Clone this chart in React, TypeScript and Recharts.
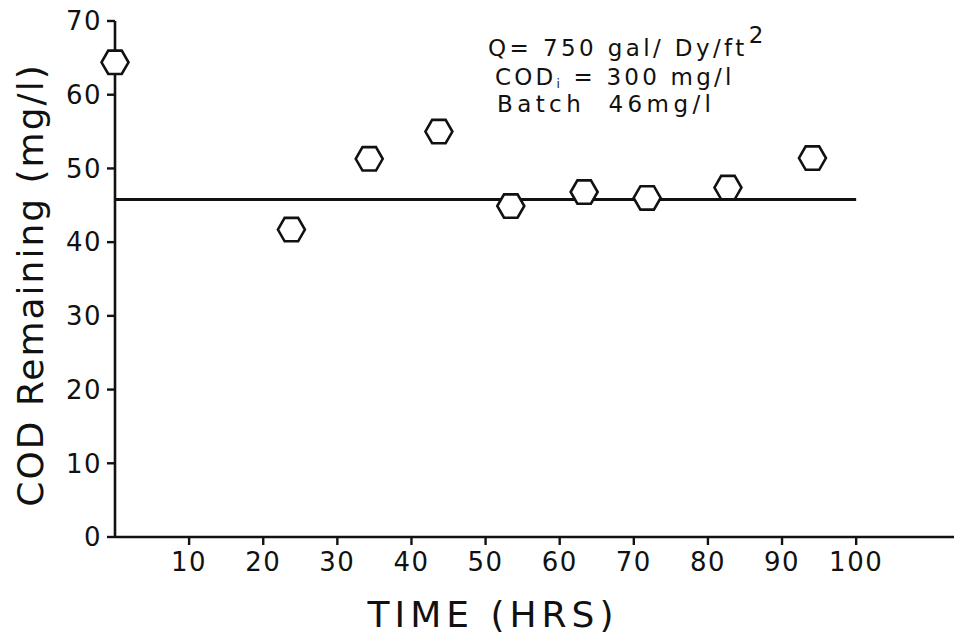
import React from 'react'
import {
  ReferenceLine,
  Scatter,
  ScatterChart,
  XAxis,
  YAxis,
} from 'recharts'

// COD remaining vs. time, hand-read from the plotted hexagons
const timeHrs = [0, 23.8, 34.3, 43.7, 53.4, 63.3, 71.8, 82.7, 94.1]
const codRemaining = [64.4, 41.7, 51.3, 55.0, 44.9, 46.8, 46.0, 47.4, 51.4]

// batch reference level drawn as a flat line
const batchSpan = [0, 100]
const batchCod = 45.8

const xTicks = [10, 20, 30, 40, 50, 60, 70, 80, 90, 100]
const yTicks = [0, 10, 20, 30, 40, 50, 60, 70]

const CHART_WIDTH = 954
const CHART_HEIGHT = 636
const FONT = '"DejaVu Sans", Verdana, sans-serif'
const INK = '#111'

const points = timeHrs.map((t, i) => ({ t, cod: codRemaining[i] }))

function Hexagon(props: any): JSX.Element | null {
  const { cx, cy } = props
  if (cx == null || cy == null) return null
  const r = 13.5
  const h = (r * Math.sqrt(3)) / 2
  const pts = [
    [cx - r, cy],
    [cx - r / 2, cy - h],
    [cx + r / 2, cy - h],
    [cx + r, cy],
    [cx + r / 2, cy + h],
    [cx - r / 2, cy + h],
  ]
    .map((p) => p.join(','))
    .join(' ')
  return <polygon points={pts} fill="#fff" stroke={INK} strokeWidth={2.6} />
}

function YTitle({ viewBox }: any): JSX.Element {
  const cy = viewBox.y + viewBox.height / 2 + 6
  return (
    <text
      x={30}
      y={cy}
      transform={`rotate(-90, 30, ${cy})`}
      textAnchor="middle"
      dominantBaseline="central"
      fontFamily={FONT}
      fontSize={36}
      letterSpacing={2}
      fill={INK}
    >
      COD Remaining (mg/l)
    </text>
  )
}

function XTitle({ viewBox }: any): JSX.Element {
  return (
    <text
      x={viewBox.x + 378}
      y={viewBox.y + 77}
      textAnchor="middle"
      dominantBaseline="central"
      fontFamily={FONT}
      fontSize={36}
      letterSpacing={5}
      fill={INK}
    >
      TIME (HRS)
    </text>
  )
}

const tickStyle = { fontSize: 26, fill: INK, fontFamily: FONT, letterSpacing: 1.5 }
const noteStyle: React.CSSProperties = {
  position: 'absolute',
  fontFamily: FONT,
  fontSize: 23,
  lineHeight: '23px',
  height: 23,
  letterSpacing: 3.4,
  color: INK,
  whiteSpace: 'nowrap',
}

export default function App(): JSX.Element {
  return (
    <div style={{ position: 'absolute', left: 0, top: 0, width: CHART_WIDTH, height: CHART_HEIGHT, background: '#fff' }}>
      <ScatterChart
        width={CHART_WIDTH}
        height={CHART_HEIGHT}
        margin={{ top: 21, right: 0, bottom: 0, left: 0 }}
      >
        <XAxis
          type="number"
          dataKey="t"
          domain={[0, 113.2]}
          ticks={xTicks}
          height={99}
          tickSize={8}
          tickMargin={8}
          tick={tickStyle}
          axisLine={{ stroke: INK, strokeWidth: 2.6 }}
          tickLine={{ stroke: INK, strokeWidth: 2.4 }}
          label={<XTitle />}
        />
        <YAxis
          type="number"
          dataKey="cod"
          domain={[0, 70]}
          ticks={yTicks}
          width={115}
          tickSize={8}
          tickMargin={5}
          tick={tickStyle}
          axisLine={{ stroke: INK, strokeWidth: 2.6 }}
          tickLine={{ stroke: INK, strokeWidth: 2.4 }}
          label={<YTitle />}
        />
        <ReferenceLine
          segment={[
            { x: batchSpan[0], y: batchCod },
            { x: batchSpan[1], y: batchCod },
          ]}
          stroke={INK}
          strokeWidth={3}
        />
        <Scatter data={points} shape={<Hexagon />} isAnimationActive={false} />
      </ScatterChart>
      <div style={{ ...noteStyle, left: 488, top: 37 }}>
        Q= 750 gal/ Dy/ft
        <span style={{ position: 'relative', top: -13, fontSize: 23, marginLeft: 1 }}>2</span>
      </div>
      <div style={{ ...noteStyle, left: 495, top: 66, letterSpacing: 3.2 }}>
        COD
        <span style={{ fontSize: 12, position: 'relative', top: 3, lineHeight: 0 }}>i</span>
        {' '}= 300 mg/l
      </div>
      <div style={{ ...noteStyle, left: 497, top: 93, letterSpacing: 4.4 }}>Batch&nbsp; 46mg/l</div>
    </div>
  )
}
